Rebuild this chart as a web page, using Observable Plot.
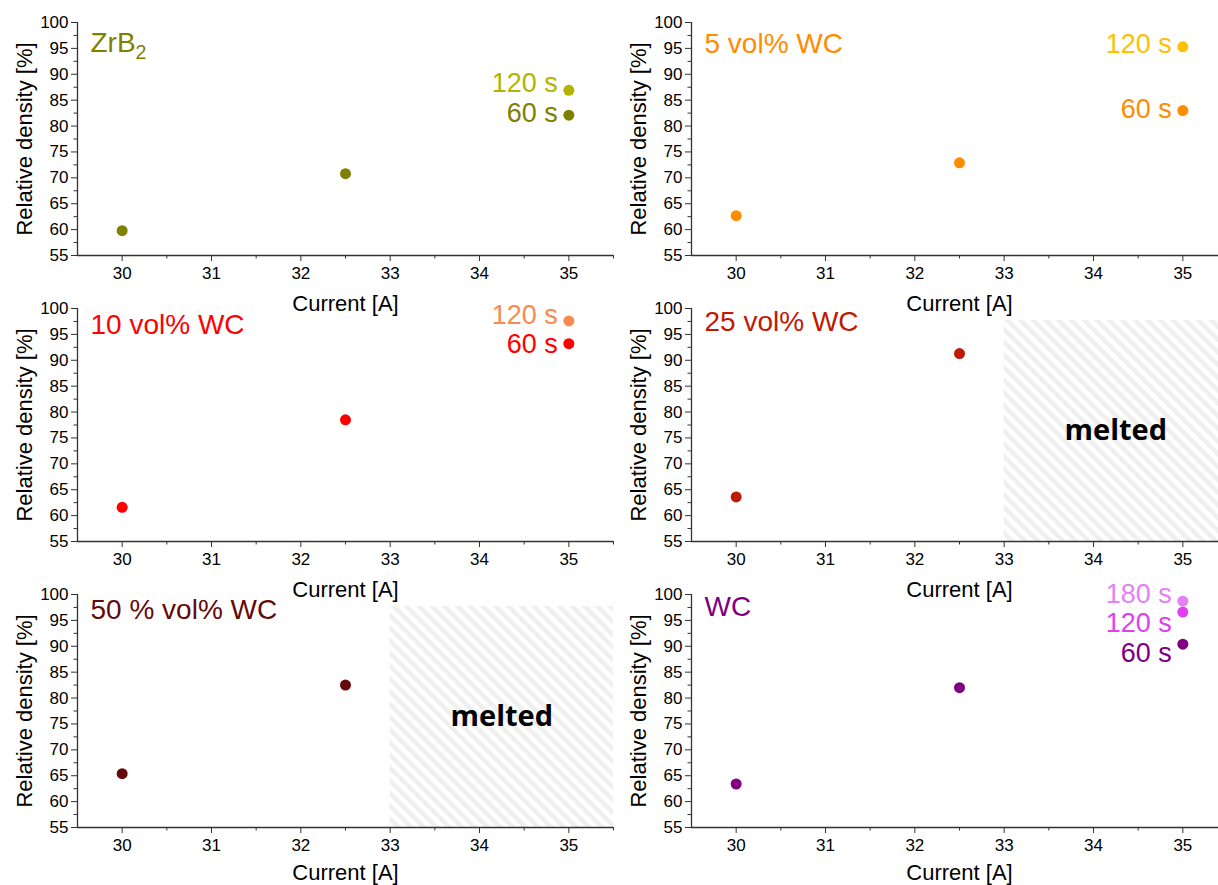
<!DOCTYPE html>
<html><head><meta charset="utf-8">
<script src="https://cdn.jsdelivr.net/npm/d3@7"></script>
<script src="https://cdn.jsdelivr.net/npm/@observablehq/plot@0.6"></script>
<style>
html,body{margin:0;padding:0;background:#fff;overflow:hidden;width:1218px;height:885px;}
#root{position:relative;width:1218px;height:885px;overflow:hidden;}
#root svg{position:absolute;}
</style></head><body><div id="root"></div>
<script>
// ---- data ----
const panelTitles = ["ZrB2", "5 vol% WC", "10 vol% WC", "25 vol% WC", "50 % vol% WC", "WC"];
const currentTicks = [30, 31, 32, 33, 34, 35];
const currentMinorTicks = [30.5, 31.5, 32.5, 33.5, 34.5, 35.5];
const densityTicks = [55, 60, 65, 70, 75, 80, 85, 90, 95, 100];
const densityMinorTicks = [57.5, 62.5, 67.5, 72.5, 77.5, 82.5, 87.5, 92.5, 97.5];
const xLabel = "Current [A]";
const yLabel = "Relative density [%]";
const meltedText = "melted";

const currents3 = [30, 32.5, 35];
const currents2 = [30, 32.5];
const current35 = [35];

const zrb2_60s = [59.8, 70.8, 82.1];
const zrb2_120s = [86.9];
const wc5_60s = [62.7, 72.9, 83.0];
const wc5_120s = [95.3];
const wc10_60s = [61.6, 78.5, 93.2];
const wc10_120s = [97.6];
const wc25_60s = [63.6, 91.3];
const wc50_60s = [65.4, 82.5];
const wc100_60s = [63.4, 82.0, 90.4];
const wc100_120s = [96.6];
const wc100_180s = [98.7];

// label anchor heights (density units) for the holding-time labels
const zrb2_labelY = [82.5, 88.3];          // 60 s, 120 s
const wc5_labelY = [83.3, 95.7];
const wc10_labelY = [93.0, 98.7];
const wc100_labelY = [88.7, 94.5, 100.0];  // 60 s, 120 s, 180 s

const meltedFrom = 33;
const meltedTo = 35.5;
const meltedTop = 97.7;

// ---- panel configuration ----
function S(name, xs, ys, color, labelY) { return {name, xs, ys, color, labelY}; }
const panels = [
  {title: panelTitles[0], color: "#808000", titleDy: 21, series: [
    S("60 s", currents3, zrb2_60s, "#808000", zrb2_labelY[0]),
    S("120 s", current35, zrb2_120s, "#b3b300", zrb2_labelY[1])]},
  {title: panelTitles[1], color: "#ff8c00", titleDy: 22, series: [
    S("60 s", currents3, wc5_60s, "#ff8c00", wc5_labelY[0]),
    S("120 s", current35, wc5_120s, "#ffc000", wc5_labelY[1])]},
  {title: panelTitles[2], color: "#ff0000", titleDy: 17, series: [
    S("60 s", currents3, wc10_60s, "#ff0000", wc10_labelY[0]),
    S("120 s", current35, wc10_120s, "#f98a50", wc10_labelY[1])]},
  {title: panelTitles[3], color: "#c01a00", titleDy: 14, melted: true, series: [
    S(null, currents2, wc25_60s, "#c01a00", null)]},
  {title: panelTitles[4], color: "#650a0a", titleDy: 16, melted: true, series: [
    S(null, currents2, wc50_60s, "#650a0a", null)]},
  {title: panelTitles[5], color: "#800080", titleDy: 13, series: [
    S("60 s", currents3, wc100_60s, "#800080", wc100_labelY[0]),
    S("120 s", current35, wc100_120s, "#df40ef", wc100_labelY[1]),
    S("180 s", current35, wc100_180s, "#e680f5", wc100_labelY[2])]}
];

const FONT = "'Liberation Sans', Arial, Helvetica, sans-serif";
const AX = "#333";
const root = document.getElementById("root");
const colLeft = [0, 614];
const rowTop = [0, 286, 572];
const rowXLabelDy = [48, 48, 45];

panels.forEach((p, i) => {
  const row = Math.floor(i / 2);
  const marks = [];
  if (p.melted) {
    marks.push(Plot.rect([{x1: meltedFrom, x2: meltedTo, y1: 55, y2: meltedTop}],
      {x1: "x1", x2: "x2", y1: "y1", y2: "y2", fill: `url(#hatch${i})`}));
    marks.push(Plot.text([{x: (meltedFrom + meltedTo) / 2, y: (55 + meltedTop) / 2}],
      {x: "x", y: "y", text: () => meltedText, fontSize: 29, fontWeight: 700,
       fontFamily: "'Open Sans', 'Noto Sans', sans-serif", fill: "black", lineAnchor: "middle"}));
  }
  marks.push(
    Plot.axisY(densityTicks, {tickSize: 6, tickPadding: 3, fontSize: 17, label: null, stroke: AX, fill: "black"}),
    Plot.axisY(densityMinorTicks, {tickSize: 3.5, tickFormat: () => "", label: null, stroke: AX}),
    Plot.axisX(currentTicks, {tickSize: 6, tickPadding: 5, fontSize: 17, label: null, stroke: AX, fill: "black"}),
    Plot.axisX(currentMinorTicks, {tickSize: 3.5, tickFormat: () => "", label: null, stroke: AX}),
    Plot.ruleX([29.5], {stroke: AX, strokeWidth: 1.3}),
    Plot.ruleY([55], {stroke: AX, strokeWidth: 1.3}),
    Plot.text([yLabel], {frameAnchor: "left", text: d => d, rotate: -90, dx: -53, fontSize: 22,
      fill: "black", lineAnchor: "middle", textAnchor: "middle"}),
    Plot.text([{x: 32.5, y: 55}], {x: "x", y: "y", text: () => xLabel, dy: rowXLabelDy[row], fontSize: 22,
      fill: "black", lineAnchor: "middle"}),
    Plot.text([p.title], {frameAnchor: "top-left", text: d => d, dx: 13, dy: p.titleDy, fontSize: 28,
      fill: p.color, textAnchor: "start", lineAnchor: "middle"})
  );
  p.series.forEach(s => {
    const pts = s.xs.map((x, k) => ({x, y: s.ys[k]}));
    marks.push(Plot.dot(pts, {x: "x", y: "y", r: 5.5, fill: s.color, stroke: "none"}));
    if (s.name) {
      marks.push(Plot.text([{x: 35, y: s.labelY, t: s.name}], {x: "x", y: "y", text: "t",
        textAnchor: "end", dx: -11, fontSize: 27, fill: s.color, lineAnchor: "middle"}));
    }
  });

  const svg = Plot.plot({
    width: 614, height: 325,
    marginLeft: 77, marginRight: 1, marginTop: 22, marginBottom: 70,
    x: {domain: [29.5, 35.5]},
    y: {domain: [55, 100]},
    style: {background: "transparent", overflow: "visible", fontFamily: FONT},
    marks
  });

  // hatch pattern for the "melted" region
  const ns = "http://www.w3.org/2000/svg";
  const defs = document.createElementNS(ns, "defs");
  const pat = document.createElementNS(ns, "pattern");
  pat.setAttribute("id", `hatch${i}`);
  pat.setAttribute("patternUnits", "userSpaceOnUse");
  pat.setAttribute("width", "9");
  pat.setAttribute("height", "9");
  pat.setAttribute("patternTransform", "rotate(-45)");
  const bg = document.createElementNS(ns, "rect");
  bg.setAttribute("width", "9"); bg.setAttribute("height", "9"); bg.setAttribute("fill", "#ffffff");
  const st = document.createElementNS(ns, "rect");
  st.setAttribute("width", "4.5"); st.setAttribute("height", "9"); st.setAttribute("fill", "#efefef");
  pat.appendChild(bg); pat.appendChild(st); defs.appendChild(pat);
  svg.insertBefore(defs, svg.firstChild);

  // subscript for ZrB2
  svg.querySelectorAll("text").forEach(t => {
    if (t.textContent === "ZrB2") {
      t.textContent = "ZrB";
      const ts = document.createElementNS(ns, "tspan");
      ts.setAttribute("font-size", "70%");
      ts.setAttribute("dy", "0.35em");
      ts.textContent = "2";
      t.appendChild(ts);
    }
  });

  svg.style.left = colLeft[i % 2] + "px";
  svg.style.top = rowTop[row] + "px";
  root.appendChild(svg);
});
</script></body></html>
